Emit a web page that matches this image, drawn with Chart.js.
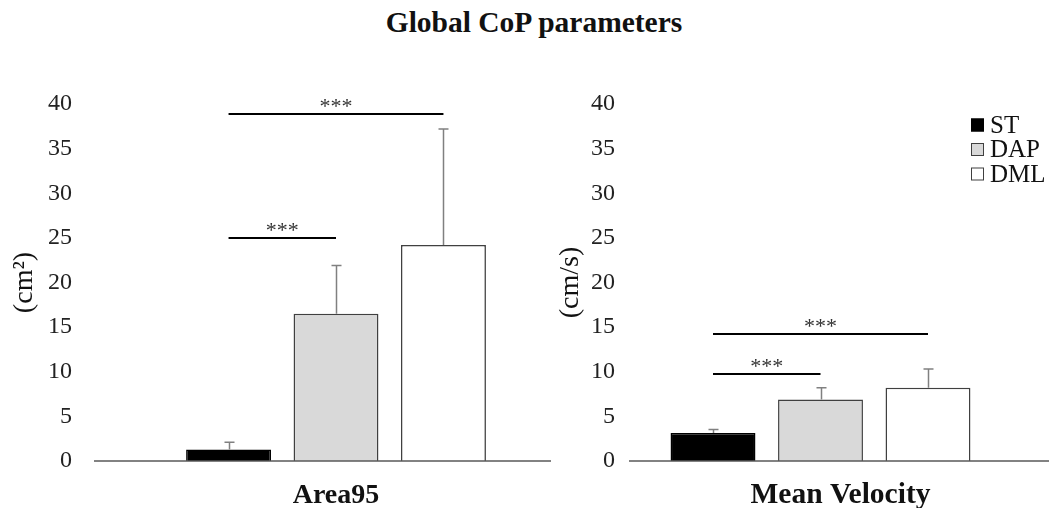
<!DOCTYPE html>
<html>
<head>
<meta charset="utf-8">
<script src="https://cdn.jsdelivr.net/npm/chart.js@4.4.1/dist/chart.umd.min.js"></script>
<style>
    body { margin: 0; background: #fff; }
    #wrap { position: relative; width: 1049px; height: 508px; background: #fff; overflow: hidden; }
    #title { position: absolute; left: 0; top: 8px; width: 1049px; padding-left: 19px; box-sizing: border-box;
        text-align: center; font: bold 29.5px/29.5px 'Liberation Serif', 'Times New Roman', serif; color: #111; }
    canvas { position: absolute; top: 60px; }
</style>
</head>
<body>
<div id="wrap">
    <div id="title">Global CoP parameters</div>
    <canvas id="areaChart" width="600" height="448" style="left:0"></canvas>
    <canvas id="velocityChart" width="509" height="448" style="left:540px"></canvas>
</div>
<script>
var groups = ['ST', 'DAP', 'DML'];
var groupColors = ['#000000', '#d9d9d9', '#ffffff'];
var groupBorders = ['#000000', '#404040', '#404040'];

var area95 = [1.3, 16.5, 24.2];
var area95Err = [0.8, 5.4, 13.0];
var area95Sig = [[0, 1, 25.0], [0, 2, 38.9]];

var velocity = [3.15, 6.9, 8.2];
var velocityErr = [0.37, 1.3, 2.1];
var velocitySig = [[0, 1, 9.7], [0, 2, 14.2]];

var yTicks = [0, 5, 10, 15, 20, 25, 30, 35, 40];

var serif = "'Liberation Serif', 'Times New Roman', serif";

// error bars, significance brackets, baseline and legend
var extrasPlugin = {
    id: 'extras',
    afterDatasetsDraw: function(chart, args, o) {
        var ctx = chart.ctx;
        var y = chart.scales.y;
        var area = chart.chartArea;
        var bars = chart.data.datasets.map(function(d, i) {
            return chart.getDatasetMeta(i).data[0];
        });
        ctx.save();

        // baseline
        var y0 = y.getPixelForValue(0);
        ctx.strokeStyle = '#595959';
        ctx.lineWidth = 1.5;
        ctx.beginPath();
        ctx.moveTo(area.left, y0);
        ctx.lineTo(area.right + o.axisExtend, y0);
        ctx.stroke();

        // error bars (upper only)
        ctx.strokeStyle = '#808080';
        ctx.lineWidth = 1.5;
        o.errors.forEach(function(e, i) {
            var v = chart.data.datasets[i].data[0];
            var bx = Math.round(bars[i].x) + 0.5;
            var top = y.getPixelForValue(v + e);
            ctx.beginPath();
            ctx.moveTo(bx, y.getPixelForValue(v));
            ctx.lineTo(bx, top);
            ctx.moveTo(bx - 5, top);
            ctx.lineTo(bx + 5, top);
            ctx.stroke();
        });

        // significance lines
        ctx.strokeStyle = '#000';
        ctx.lineWidth = 2;
        ctx.fillStyle = '#333';
        ctx.font = '22px ' + serif;
        ctx.textAlign = 'center';
        ctx.textBaseline = 'alphabetic';
        o.sig.forEach(function(s) {
            var x1 = bars[s[0]].x, x2 = bars[s[1]].x;
            var ly = Math.round(y.getPixelForValue(s[2]));
            ctx.beginPath();
            ctx.moveTo(x1, ly);
            ctx.lineTo(x2, ly);
            ctx.stroke();
            ctx.fillText('***', (x1 + x2) / 2, ly - 1);
        });

        // legend
        if (o.legend) {
            ctx.font = '25px ' + serif;
            ctx.textAlign = 'left';
            ctx.textBaseline = 'middle';
            ctx.lineWidth = 1;
            chart.data.datasets.forEach(function(d, i) {
                var lx = area.right - 41;
                var ly = area.top + 21 + i * 24.5;
                ctx.fillStyle = d.backgroundColor;
                ctx.fillRect(lx, ly - 6.5, 13, 13);
                ctx.strokeStyle = d.borderColor;
                ctx.strokeRect(lx + 0.5, ly - 6, 12, 12);
                ctx.fillStyle = '#111';
                ctx.fillText(d.label, lx + 19, ly + 1);
            });
        }
        ctx.restore();
    }
};

function makeChart(id, category, values, errors, sig, unit, cfg) {
    var datasets = groups.map(function(g, i) {
        return {
            label: g,
            data: [values[i]],
            backgroundColor: groupColors[i],
            borderColor: groupBorders[i],
            borderWidth: 1.5,
            borderSkipped: 'bottom',
            categoryPercentage: cfg.catPct,
            barPercentage: 0.79
        };
    });

    return new Chart(document.getElementById(id), {
        type: 'bar',
        data: {
            labels: [category],
            datasets: datasets
        },
        plugins: [extrasPlugin],
        options: {
            responsive: false,
            animation: false,
            layout: {
                padding: { top: 44, right: cfg.padRight, left: 0, bottom: 0 }
            },
            plugins: {
                legend: { display: false },
                tooltip: { enabled: false },
                extras: {
                    errors: errors,
                    sig: sig,
                    legend: cfg.legend,
                    axisExtend: cfg.axisExtend
                }
            },
            scales: {
                x: {
                    grid: { display: false, drawTicks: false },
                    border: { display: false },
                    ticks: {
                        padding: cfg.catPad,
                        labelOffset: cfg.labelOffset,
                        color: '#111',
                        font: { family: serif, size: cfg.catSize, weight: 'bold' }
                    },
                    afterFit: function(scale) { scale.height = 47; }
                },
                y: {
                    min: 0,
                    max: 40,
                    afterBuildTicks: function(scale) {
                        scale.ticks = yTicks.map(function(v) { return { value: v }; });
                    },
                    grid: { display: false, drawTicks: false },
                    border: { display: false },
                    ticks: {
                        padding: cfg.tickPad,
                        color: '#222',
                        font: { family: serif, size: 24 }
                    },
                    title: {
                        display: true,
                        text: unit,
                        color: '#111',
                        padding: { top: cfg.titlePad, bottom: 0 },
                        font: { family: serif, size: 28 }
                    },
                    afterFit: function(scale) { scale.width = cfg.yWidth; }
                }
            }
        }
    });
}

makeChart('areaChart', 'Area95', area95, area95Err, area95Sig, '(cm\u00b2)', {
    catPct: 0.666, padRight: 22, yWidth: 94, tickPad: 22, titlePad: 8, legend: false,
    axisExtend: -27, catSize: 28, catPad: 18, labelOffset: 0
});
makeChart('velocityChart', 'Mean Velocity', velocity, velocityErr, velocitySig, '(cm/s)', {
    catPct: 0.842, padRight: 37, yWidth: 89, tickPad: 14, titlePad: 14, legend: true,
    axisExtend: 37, catSize: 29.5, catPad: 16.5, labelOffset: 20
});
</script>
</body>
</html>
